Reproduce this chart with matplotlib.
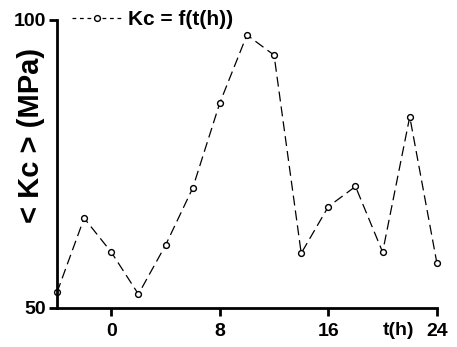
import matplotlib.pyplot as plt

plt.rcParams['font.family'] = ['Liberation Sans', 'DejaVu Sans']
plt.rcParams['font.weight'] = 'bold'

t_h = [-4, -2, 0, 2, 4, 6, 8, 10, 12, 14, 16, 18, 20, 22, 24]
kc = [52.7, 65.6, 59.7, 52.4, 60.9, 70.8, 85.6, 97.4, 93.9, 59.5, 67.6, 71.1, 59.7, 83.2, 57.8]
xticks = [0, 8, 16, 24]
yticks = [50, 100]

fig = plt.figure(figsize=(4.57, 3.47), dpi=100)
ax = fig.add_axes([0.1247, 0.1124, 0.8313, 0.83])

ax.plot(t_h, kc, color='black', lw=0.9, ls=(0, (8, 4)), marker='o', ms=4.2,
        mfc='white', mec='black', mew=1.0, label='Kc = f(t(h))', clip_on=False)

ax.set_xlim(-4, 24)
ax.set_ylim(50, 100)
ax.set_xticks(xticks)
ax.set_yticks(yticks)
for s in ['top', 'right']:
    ax.spines[s].set_visible(False)
for s in ['left', 'bottom']:
    ax.spines[s].set_linewidth(2)
ax.tick_params(width=2, length=6, labelsize=14)
ax.tick_params(axis='x', pad=5)
ax.tick_params(axis='y', pad=2)
for lab in ax.get_xticklabels() + ax.get_yticklabels():
    lab.set_fontweight('bold')

ax.set_ylabel('< Kc > (MPa)', fontsize=21, fontweight='bold')
ax.yaxis.set_label_coords(-0.032, 0.6)
ax.text(0.9, -0.05, 't(h)', transform=ax.transAxes, ha='center', va='top',
        fontsize=14, fontweight='bold')

leg = ax.legend(loc='center left', bbox_to_anchor=(0.04, 1.0), frameon=False,
                prop={'size': 15, 'weight': 'bold'}, handlelength=2.4,
                handletextpad=0.3, borderaxespad=0, borderpad=0)
leg.get_lines()[0].set_linestyle((0, (3, 3)))

fig.savefig('out.png', dpi=100)
